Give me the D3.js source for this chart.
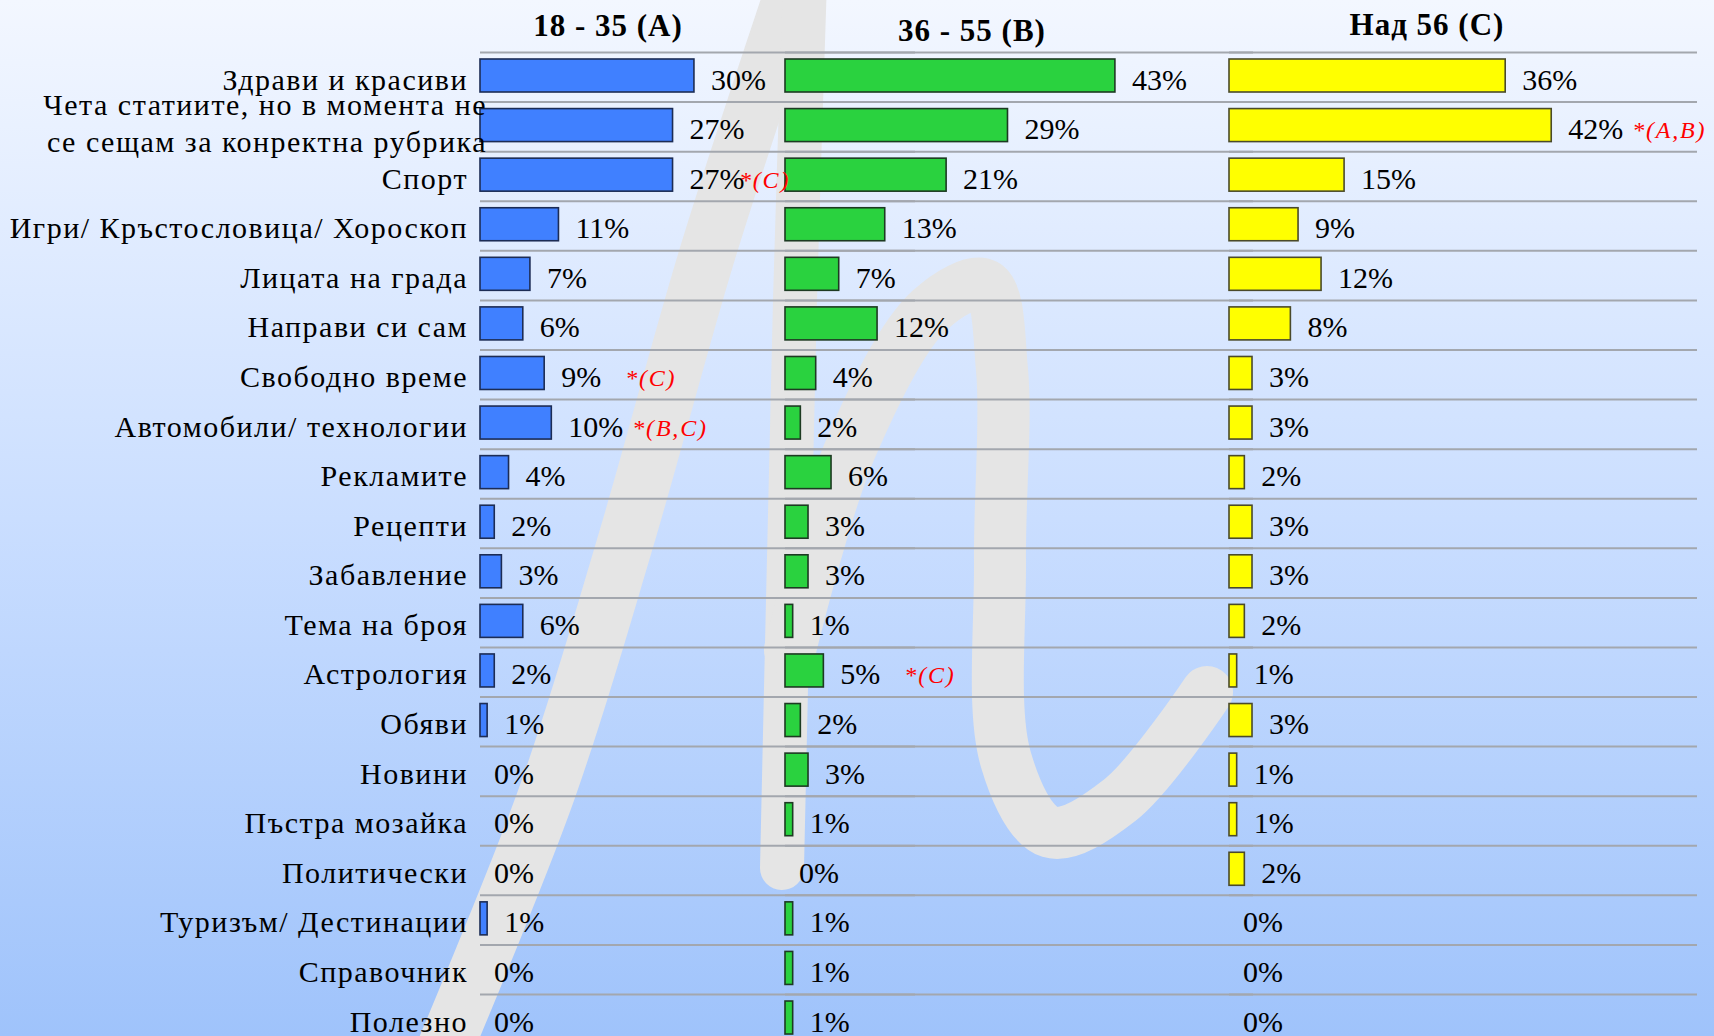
<!DOCTYPE html>
<html>
<head>
<meta charset="utf-8">
<script src="https://cdn.jsdelivr.net/npm/d3@7"></script>
<style>
  html, body { margin: 0; padding: 0; overflow: hidden; }
  svg { display: block; font-family: "Liberation Serif", "Times New Roman", serif; }
  .cat { font-size: 30px; letter-spacing: 1.5px; fill: #000; }
  .val { font-size: 30px; fill: #000; }
  .head { font-size: 31px; font-weight: bold; letter-spacing: 1px; fill: #000; }
  .note { font-size: 24px; font-style: italic; letter-spacing: 1.8px; fill: #ff0000; }
</style>
</head>
<body>
<svg id="chart" width="1714" height="1036"></svg>
<script>
/* ── Data ───────────────────────────────────────────────────────────────────── */
const categories = [
  "Здрави и красиви",
  "Чета статиите, но в момента не\nсе сещам за конректна рубрика",
  "Спорт",
  "Игри/ Кръстословица/ Хороскоп",
  "Лицата на града",
  "Направи си сам",
  "Свободно време",
  "Автомобили/ технологии",
  "Рекламите",
  "Рецепти",
  "Забавление",
  "Тема на броя",
  "Астрология",
  "Обяви",
  "Новини",
  "Пъстра мозайка",
  "Политически",
  "Туризъм/ Дестинации",
  "Справочник",
  "Полезно",
];
const groups = ["18 - 35 (A)", "36 - 55 (B)", "Над 56 (C)"];
const valuesA = [30, 27, 27, 11, 7, 6, 9, 10, 4, 2, 3, 6, 2, 1, 0, 0, 0, 1, 0, 0];
const valuesB = [43, 29, 21, 13, 7, 12, 4, 2, 6, 3, 3, 1, 5, 2, 3, 1, 0, 1, 1, 1];
const valuesC = [36, 42, 15, 9, 12, 8, 3, 3, 2, 3, 3, 2, 1, 3, 1, 1, 2, 0, 0, 0];
// significance notes: group index, row index, text
const notes = [
  [0, 2, "*(C)"],
  [0, 6, "*(C)"],
  [0, 7, "*(B,C)"],
  [1, 12, "*(C)"],
  [2, 1, "*(A,B)"],
];

/* ── Layout ─────────────────────────────────────────────────────────────────── */
const W = 1714, H = 1036;
const panels = [
  { values: valuesA, x0: 480,  width: 435, head: 608,  headY: 36, fill: "#4080ff", stroke: "#1c2c55" },
  { values: valuesB, x0: 785,  width: 468, head: 972,  headY: 41, fill: "#2ad23f", stroke: "#1d3a22" },
  { values: valuesC, x0: 1229, width: 468, head: 1427, headY: 35, fill: "#ffff00", stroke: "#4a4a2a" },
];
const ROW_TOP = 52.5, PITCH = 49.58;

const svg = d3.select("#chart");

/* ── Background ─────────────────────────────────────────────────────────────── */
const defs = svg.append("defs");
const grad = defs.append("linearGradient").attr("id", "bg")
  .attr("x1", 0).attr("y1", 0).attr("x2", 0).attr("y2", 1);
grad.append("stop").attr("offset", "0%").attr("stop-color", "#f3f7ff");
grad.append("stop").attr("offset", "50%").attr("stop-color", "#cadeff");
grad.append("stop").attr("offset", "100%").attr("stop-color", "#9fc3fb");
svg.append("rect").attr("width", W).attr("height", H).attr("fill", "url(#bg)");

// watermark strokes
const wm = svg.append("g").attr("fill", "none").attr("stroke", "#e5e5e5")
  .attr("stroke-linecap", "round").attr("stroke-linejoin", "round");
const curve = d3.line().curve(d3.curveCatmullRom.alpha(0.5));
wm.append("path").attr("stroke-width", 56)
  .attr("d", curve([[440, 1060], [548, 790], [626, 540], [707, 255], [790, 0], [800, -30]]));
wm.append("path").attr("stroke-width", 44)
  .attr("d", curve([[805, -20], [795, 300], [788, 600], [782, 868]]));
wm.append("path").attr("stroke-width", 52)
  .attr("d", curve([[790, 650], [850, 450], [930, 310], [985, 285], [1002, 370],
                    [1000, 560], [1006, 760], [1050, 832], [1120, 800], [1207, 692]]));

/* ── Scales ─────────────────────────────────────────────────────────────────── */
const y = d3.scaleBand().domain(d3.range(categories.length))
  .range([ROW_TOP, ROW_TOP + PITCH * categories.length]).padding(0);

const gGrid = svg.append("g");
const gBars = svg.append("g");
const gText = svg.append("g");

/* ── Category labels ────────────────────────────────────────────────────────── */
categories.forEach((c, i) => {
  const lines = c.split("\n");
  const t = gText.append("text").attr("class", "cat").attr("text-anchor", "end");
  if (lines.length === 1) {
    t.attr("x", 468).attr("y", y(i) + 37).text(c);
  } else {
    lines.forEach((ln, k) => {
      t.append("tspan").attr("x", 487).attr("y", y(i) + 13 + k * 37).text(ln);
    });
  }
});

/* ── Panels ─────────────────────────────────────────────────────────────────── */
panels.forEach((p, gi) => {
  const x = d3.scaleLinear().domain([0, 61]).range([p.x0, p.x0 + p.width]);
  const next = panels[gi + 1];

  gText.append("text").attr("class", "head").attr("text-anchor", "middle")
    .attr("x", p.head).attr("y", p.headY).text(groups[gi]);

  // row separators
  gGrid.append("g").selectAll("line")
    .data(d3.range(categories.length + 1))
    .join("line")
    .attr("x1", x(0)).attr("x2", x.range()[1])
    .attr("y1", i => i < categories.length ? y(i) : y(i - 1) + y.bandwidth())
    .attr("y2", i => i < categories.length ? y(i) : y(i - 1) + y.bandwidth())
    .attr("stroke", "#a3a7ae").attr("stroke-width", 2);

  const rows = p.values.map((v, i) => ({ v, i }));

  gBars.append("g").selectAll("rect")
    .data(rows.filter(d => d.v > 0))
    .join("rect")
    .attr("x", x(0))
    .attr("y", d => y(d.i) + 6.5)
    .attr("width", d => x(d.v) - x(0))
    .attr("height", 33)
    .attr("fill", p.fill)
    .attr("stroke", p.stroke)
    .attr("stroke-width", 1.6);

  const labelX = d => x(d.v) + (d.v > 0 ? 17 : 14);

  gText.append("g").selectAll("text")
    .data(rows)
    .join("text")
    .attr("class", "val")
    .attr("x", labelX)
    .attr("y", d => y(d.i) + 37)
    .text(d => d.v + "%");

  notes.filter(n => n[0] === gi).forEach(([, row, txt]) => {
    let nx = labelX({ v: p.values[row] }) + 64;
    if (next) nx = Math.min(nx, next.x0 - 46);
    gText.append("text").attr("class", "note")
      .attr("x", nx)
      .attr("y", y(row) + 36)
      .text(txt);
  });
});
</script>
</body>
</html>
